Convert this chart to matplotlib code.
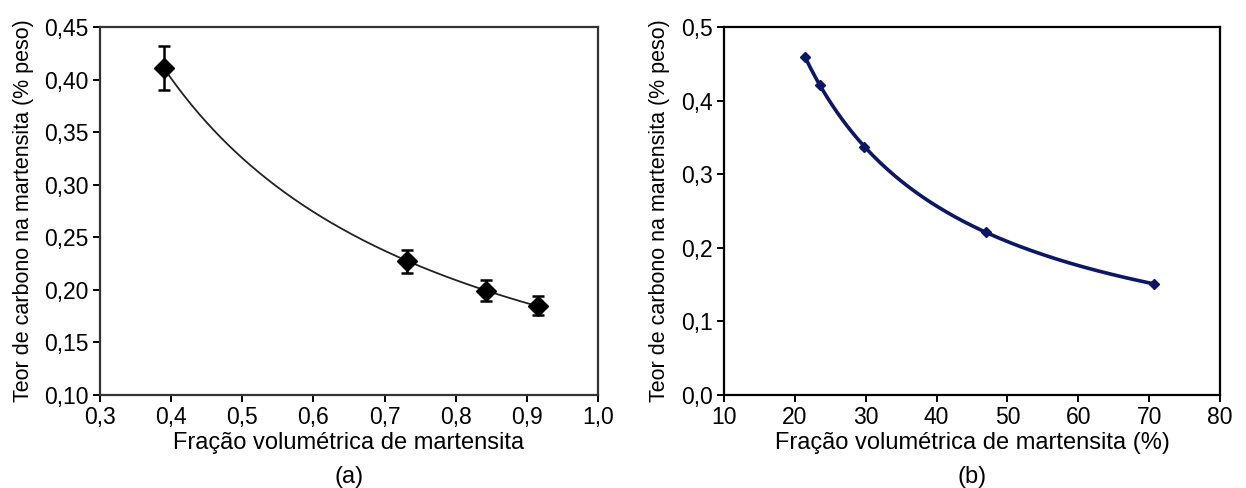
import numpy as np
import matplotlib
matplotlib.use("Agg")
import matplotlib.pyplot as plt
from matplotlib.ticker import FuncFormatter

plt.rcParams["font.family"] = ["Liberation Sans", "DejaVu Sans"]

# (a) data
frac_a = [0.39, 0.732, 0.843, 0.915]
carb_a = [0.411, 0.227, 0.199, 0.185]
err_a = [0.021, 0.011, 0.010, 0.009]

# (b) data
frac_b = [21.5, 23.5, 29.8, 47.0, 70.7]
carb_b = [0.459, 0.421, 0.337, 0.221, 0.151]

ylabel = "Teor de carbono na martensita (% peso)"


def comma(dec):
    return FuncFormatter(lambda v, p: f"{v:.{dec}f}".replace(".", ","))


def power_fit(x, y, n=200):
    b, a = np.polyfit(np.log(x), np.log(y), 1)
    xs = np.linspace(min(x), max(x), n)
    return xs, np.exp(a) * xs ** b


fig = plt.figure(figsize=(12.46, 4.88), dpi=100)
ax1 = fig.add_axes([100 / 1246, 1 - 395 / 488, 498 / 1246, 368 / 488])
ax2 = fig.add_axes([724 / 1246, 1 - 395 / 488, 496 / 1246, 368 / 488])

#(a)
xs, ys = power_fit(frac_a, carb_a)
ax1.plot(xs, ys, color="#222222", linewidth=1.3)
ax1.errorbar(frac_a, carb_a, yerr=err_a, fmt="D", color="black",
             markersize=10, capsize=4.5, elinewidth=1.8, capthick=1.8)
ax1.set_xlim(0.3, 1.0)
ax1.set_ylim(0.10, 0.45)
ax1.set_xticks(np.arange(0.3, 1.01, 0.1))
ax1.set_yticks(np.arange(0.10, 0.451, 0.05))
ax1.xaxis.set_major_formatter(comma(1))
ax1.yaxis.set_major_formatter(comma(2))
ax1.set_xlabel("Fração volumétrica de martensita", fontsize=17)
ax1.set_ylabel(ylabel, fontsize=15.5)
ax1.xaxis.set_label_coords(0.5, -48 / 368)
ax1.yaxis.set_label_coords(-76 / 498, 0.5)
ax1.text(0.5, -82 / 368, "(a)", transform=ax1.transAxes, ha="center", va="center", fontsize=17)

#(b)
xs, ys = power_fit(frac_b, carb_b)
ax2.plot(xs, ys, color="#0b1666", linewidth=2.6)
ax2.plot(frac_b, carb_b, "D", color="#0b1666", markersize=5.5)
ax2.set_xlim(10, 80)
ax2.set_ylim(0.0, 0.5)
ax2.set_xticks(np.arange(10, 81, 10))
ax2.set_yticks(np.arange(0.0, 0.51, 0.1))
ax2.yaxis.set_major_formatter(comma(1))
ax2.set_xlabel("Fração volumétrica de martensita (%)", fontsize=17)
ax2.set_ylabel(ylabel, fontsize=15.5)
ax2.xaxis.set_label_coords(0.5, -48 / 368)
ax2.yaxis.set_label_coords(-64 / 496, 0.5)
ax2.text(0.5, -82 / 368, "(b)", transform=ax2.transAxes, ha="center", va="center", fontsize=17)

for ax, col in ((ax1, "#333333"), (ax2, "black")):
    ax.xaxis.label.set_va("center")
    ax.yaxis.label.set_va("center")
    for s in ax.spines.values():
        s.set_linewidth(1.6)
        s.set_color(col)
    ax.tick_params(direction="out", length=5, width=1.4, pad=3, labelsize=16.5)

plt.savefig("out.png", dpi=100)
